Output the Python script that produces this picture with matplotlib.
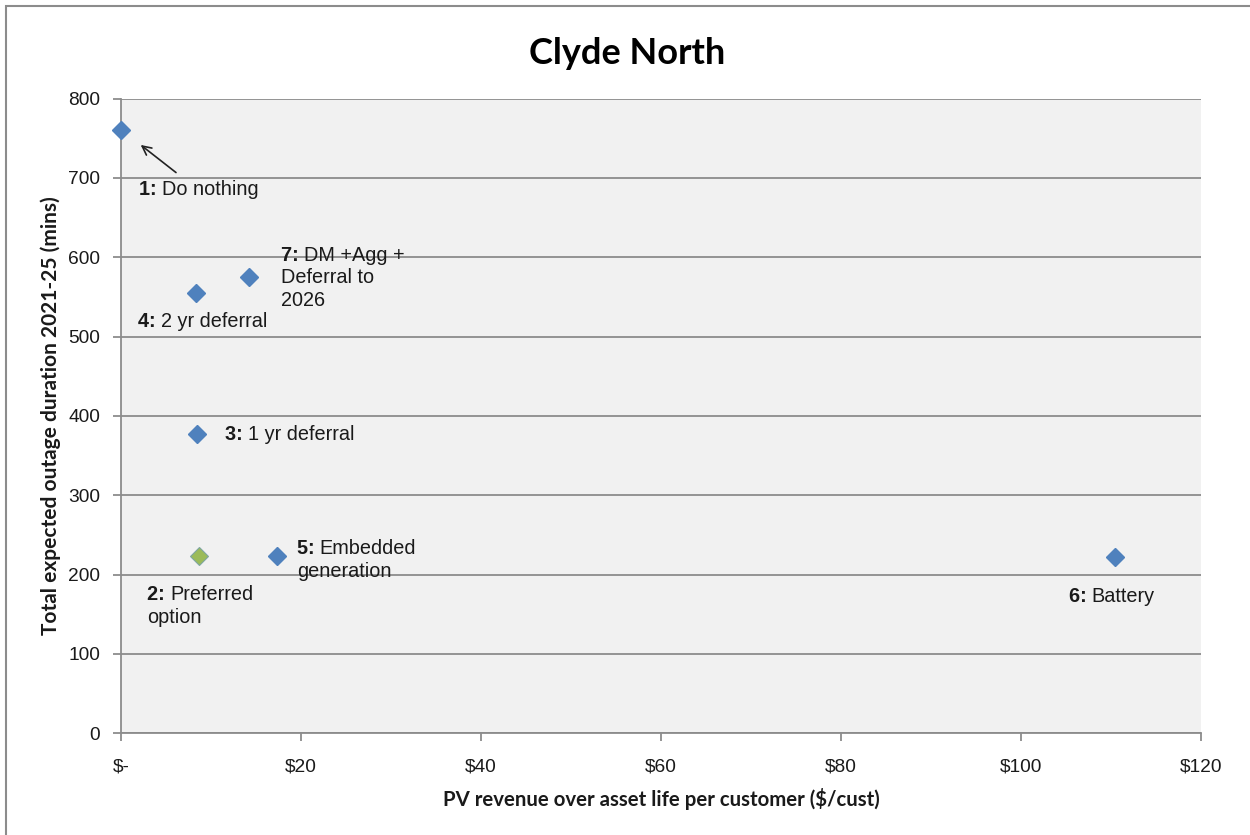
import matplotlib.pyplot as plt
from matplotlib.patches import Rectangle

# Options: PV revenue ($/cust) vs expected outage duration (mins)
option_ids = ["1", "2", "3", "4", "5", "6", "7"]
option_names = ["Do nothing", "Preferred\noption", "1 yr deferral", "2 yr deferral",
                "Embedded\ngeneration", "Battery", "DM +Agg +\nDeferral to\n2026"]
revenue = [0.0, 8.7, 8.4, 8.3, 17.3, 110.4, 14.2]
outage = [761, 223, 377, 555, 223, 222, 575]
preferred = "2"

x_ticks = [0, 20, 40, 60, 80, 100, 120]
x_tick_labels = ["$-", "$20", "$40", "$60", "$80", "$100", "$120"]
y_ticks = [0, 100, 200, 300, 400, 500, 600, 700, 800]

# label placement: pixels right of the marker, pixels below the marker (first line centre)
label_offsets = {
    "1": (18, 60),
    "2": (-52, 38),
    "3": (28, 0),
    "4": (-58, 29),
    "5": (20, -8),
    "6": (-46, 39),
    "7": (32, -22),
}
line_step = 22.8
label_size = 14.3
label_font = "Liberation Sans"

grid_col = "#8c8c8c"
blue = "#4f81bd"
green = "#9bbb59"
text_col = "#1a1a1a"

fig = plt.figure(figsize=(12.5, 8.35), dpi=100)
ax = fig.add_axes([121 / 1250, 1 - 733.3 / 835, 1080 / 1250, 634.7 / 835])
ax.set_facecolor("#f1f1f1")

for oid, x, y in zip(option_ids, revenue, outage):
    if oid == preferred:
        ax.plot(x, y, marker="D", ms=9, color=green, mec="#7fa6a0", mew=0.8,
                zorder=5, clip_on=False)
    else:
        ax.plot(x, y, marker="D", ms=9, color=blue, mec=blue, zorder=5, clip_on=False)

ax.set_xlim(0, 120)
ax.set_ylim(0, 800)

# labels: bold "n:" prefix, then the option name; extra lines go under the prefix
fig.canvas.draw()
renderer = fig.canvas.get_renderer()
for oid, name, x, y in zip(option_ids, option_names, revenue, outage):
    dx, dy = label_offsets[oid]
    lines = name.split("\n")
    pre = ax.annotate(oid + ": ", (x, y), xytext=(dx, -dy), textcoords="offset pixels",
                      ha="left", va="center", fontsize=label_size, family=label_font,
                      fontweight="bold", color=text_col, zorder=6)
    pre_w = pre.get_window_extent(renderer).width
    for i, line in enumerate(lines):
        shift = pre_w if i == 0 else 0
        ax.annotate(line, (x, y), xytext=(dx + shift, -dy - i * line_step),
                    textcoords="offset pixels", ha="left", va="center",
                    fontsize=label_size, family=label_font, color=text_col, zorder=6)

# arrow pointing back at "Do nothing"
ax.annotate("", xy=(revenue[0], outage[0]), xytext=(55, -43), textcoords="offset pixels",
            arrowprops=dict(arrowstyle="->", color="#222222", lw=1.2, mutation_scale=16,
                            shrinkA=0, shrinkB=18))

ax.set_xticks(x_ticks)
ax.set_xticklabels(x_tick_labels)
ax.set_yticks(y_ticks)
ax.yaxis.grid(True, color=grid_col, lw=1.3)
ax.set_axisbelow(True)
for side in ["top", "right"]:
    ax.spines[side].set_visible(False)
for side in ["left", "bottom"]:
    ax.spines[side].set_color(grid_col)
    ax.spines[side].set_linewidth(1.3)
ax.tick_params(axis="both", colors=grid_col, width=1.3, length=6, labelcolor=text_col,
               labelsize=13.8)
ax.tick_params(axis="x", pad=12)
ax.tick_params(axis="y", pad=9)
for lbl in ax.get_xticklabels() + ax.get_yticklabels():
    lbl.set_family("Liberation Sans")

ax.set_xlabel("PV revenue over asset life per customer ($/cust)", family="Lato",
              fontweight="bold", fontsize=14.7, labelpad=9, color=text_col)
ax.set_ylabel("Total expected outage duration 2021-25 (mins)", family="Lato",
              fontweight="bold", fontsize=15, labelpad=5, color=text_col)
fig.text(627.5 / 1250, 1 - 54 / 835, "Clyde North", ha="center", va="center",
         family="Lato", fontweight="bold", fontsize=26, color="#000000")

fig.patches.append(Rectangle((6 / 1250, -0.1), 1.2, 1 - 6 / 835 + 0.1, transform=fig.transFigure,
                             fill=False, edgecolor="#8c8c8c", lw=1.5))

fig.savefig("out.png", dpi=100)
